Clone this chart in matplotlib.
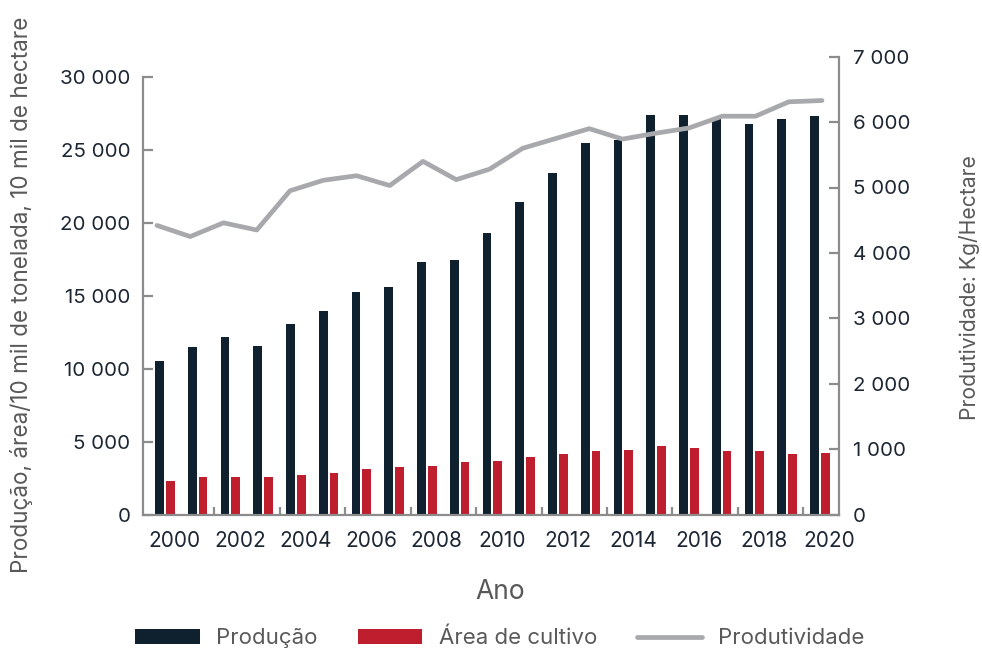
import numpy as np
import matplotlib.pyplot as plt
from matplotlib.ticker import FixedLocator

plt.rcParams['font.family'] = ['Inter', 'DejaVu Sans']

# data
anos = np.arange(2000, 2021)
producao = [10550, 11480, 12180, 11580, 13080, 13980, 15280, 15580, 17330, 17480, 19330,
            21450, 23450, 25450, 25680, 27380, 27380, 27150, 26780, 27150, 27330]
area = [2330, 2560, 2560, 2560, 2680, 2840, 3110, 3250, 3320, 3590, 3660,
        3940, 4140, 4350, 4420, 4690, 4550, 4350, 4350, 4140, 4210]
produtividade = [4420, 4250, 4460, 4350, 4950, 5110, 5180, 5030, 5400, 5120, 5280,
                 5600, 5750, 5900, 5740, 5830, 5910, 6090, 6090, 6310, 6330]

cor_prod = '#0f202e'
cor_area = '#be1e2d'
cor_linha = '#a8a9ad'
cor_eixo = '#8c8c8c'
cor_txt = '#1d2633'
cor_titulo = '#595959'

W, H = 982, 650
fig = plt.figure(figsize=(W / 100, H / 100), dpi=100)
rect = [143 / W, 1 - 514.5 / H, (839 - 143) / W, (514.5 - 56.7) / H]
ax = fig.add_axes(rect)
ax2 = fig.add_axes(rect, facecolor='none')

x = np.arange(len(anos))
b1 = ax.bar(x - 0.165, producao, width=0.27, color=cor_prod, label='Produção')
b2 = ax.bar(x + 0.165, area, width=0.27, color=cor_area, label='Área de cultivo')

ax.set_xlim(-0.668, 20.584)
ax.set_ylim(0, 30000 * 457.8 / 437.5)
ax.set_yticks(range(0, 30001, 5000))
ax.set_yticklabels([f'{v:,}'.replace(',', ' ') for v in range(0, 30001, 5000)])
ax.spines['left'].set_bounds(0, 30000)
for s in ['top', 'right']:
    ax.spines[s].set_visible(False)
for s in ['left', 'bottom']:
    ax.spines[s].set_color(cor_eixo)
    ax.spines[s].set_linewidth(1.6)
ax.tick_params(axis='y', direction='in', length=7, width=1.6, color=cor_eixo,
               labelsize=14.8, labelcolor=cor_txt, pad=9)

# labels every 2 years, small ticks between category pairs
ax.set_xticks(x[::2] + 0.3)
ax.set_xticklabels([str(a) for a in anos[::2]])
ax.tick_params(axis='x', which='major', length=0, labelsize=15, labelcolor=cor_txt, pad=12)
ax.xaxis.set_minor_locator(FixedLocator(x[1:-1:2] + 0.5))
ax.tick_params(axis='x', which='minor', direction='in', length=6, width=1.6, color=cor_eixo)

l1, = ax2.plot(x, produtividade, color=cor_linha, lw=3.4, solid_capstyle='round',
               solid_joinstyle='round', label='Produtividade')
ax2.set_xlim(-0.421, 20.511)
ax2.set_ylim(0, 7000)
ax2.xaxis.set_visible(False)
ax2.yaxis.tick_right()
ax2.set_yticks(range(0, 7001, 1000))
ax2.set_yticklabels([f'{v:,}'.replace(',', ' ') for v in range(0, 7001, 1000)])
for s in ['top', 'left', 'bottom']:
    ax2.spines[s].set_visible(False)
ax2.spines['right'].set_color(cor_eixo)
ax2.spines['right'].set_linewidth(1.6)
ax2.tick_params(axis='y', direction='in', length=7, width=1.6, color=cor_eixo,
                labelsize=14.8, labelcolor=cor_txt, pad=10)

fig.text(22 / W, 1 - 295 / H, 'Produção, área/10 mil de tonelada, 10 mil de hectare',
         rotation=90, ha='center', va='center', fontsize=16.2, color=cor_titulo)
fig.text(970 / W, 1 - 288 / H, 'Produtividade: Kg/Hectare',
         rotation=90, ha='center', va='center', fontsize=15.2, color=cor_titulo)
fig.text(500 / W, 1 - 592 / H, 'Ano', ha='center', va='center', fontsize=19, color=cor_titulo)

leg = fig.legend(handles=[b1, b2, l1], loc='center', bbox_to_anchor=(500 / W, 1 - 638 / H),
                 ncol=3, frameon=False, fontsize=16, handlelength=2.9, handleheight=0.65,
                 handletextpad=0.75, columnspacing=1.8)
for t in leg.get_texts():
    t.set_color(cor_titulo)

fig.savefig('out.png', dpi=100)
